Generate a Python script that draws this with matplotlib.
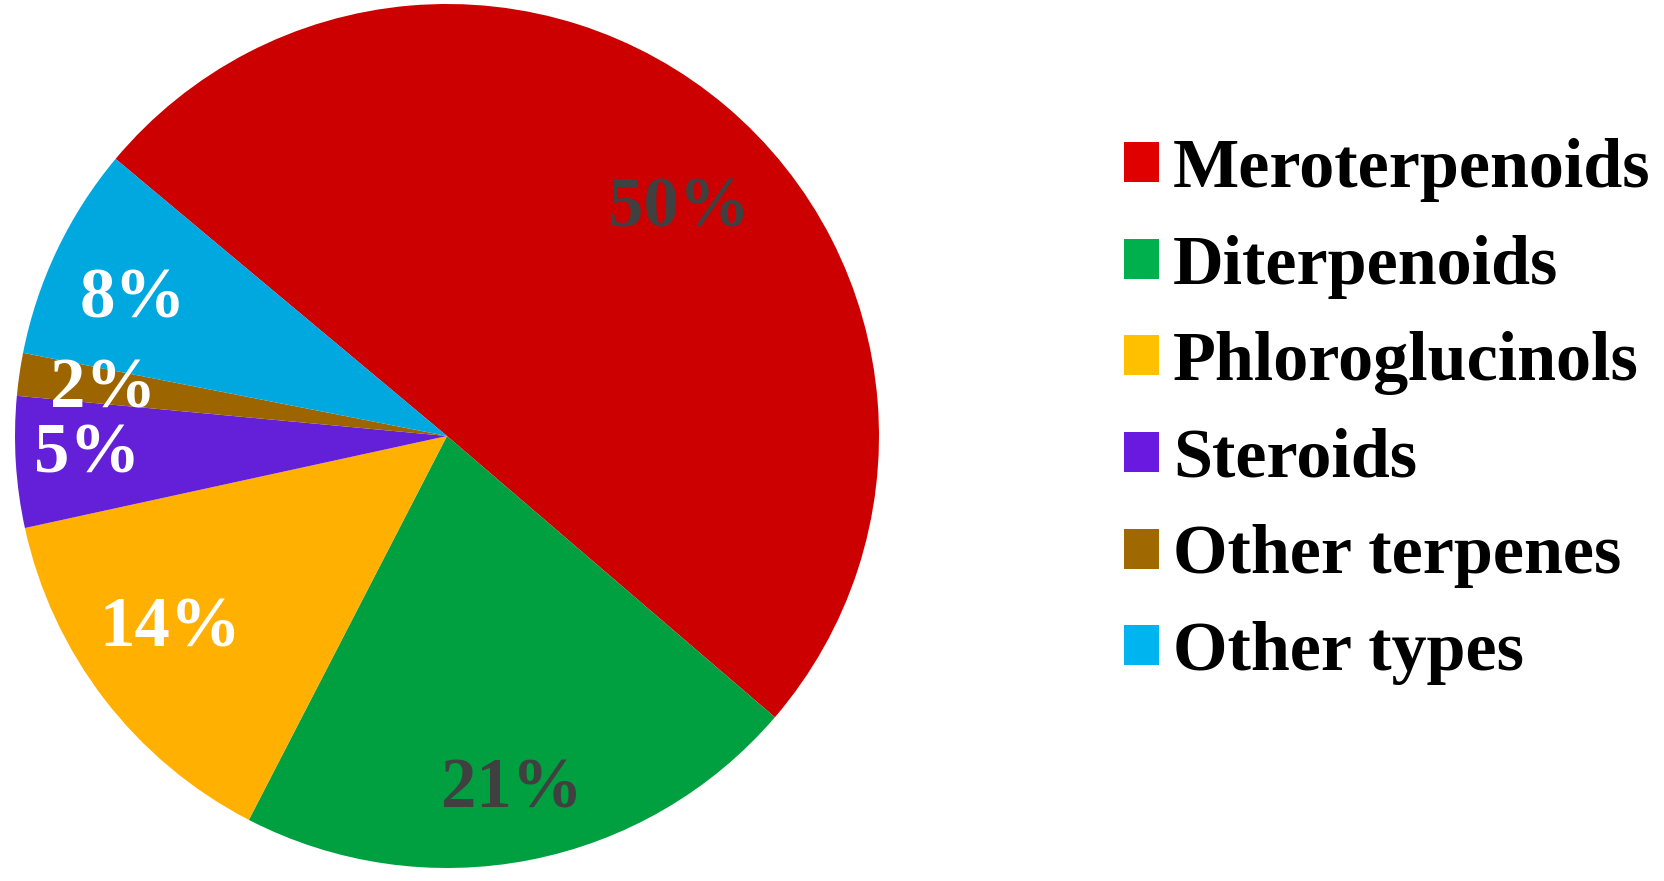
import numpy as np
import matplotlib
matplotlib.use("Agg")
import matplotlib.pyplot as plt
from matplotlib.patches import Patch

categories = ["Meroterpenoids", "Diterpenoids", "Phloroglucinols",
              "Steroids", "Other terpenes", "Other types"]
shares = [50.2, 21.3, 14.0, 4.9, 1.6, 8.0]

pie_colors = ["#CC0000", "#00A040", "#FFB000", "#6420D8", "#9C6500", "#00A8E0"]
legend_colors = ["#E00000", "#00B04C", "#FFC000", "#6A1AE0", "#A06800", "#00B4F0"]
label_colors = ["#404040", "#404040", "white", "white", "white", "white"]

# per-label placement tweaks (radius fraction, angle shift in degrees)
label_r = [0.763, 0.815, 0.77, 0.833, 0.805, 0.80]
label_shift = [-4.5, -0.4, -3.7, -1.6, -0.7, 0.9]

W, H = 1664, 881
cx, cy, R = 447, 436, 432

fig = plt.figure(figsize=(W / 100, H / 100), dpi=100)
ax = fig.add_axes([(cx - R) / W, (H - cy - R) / H, 2 * R / W, 2 * R / H])

wedges, texts, autotexts = ax.pie(
    shares, colors=pie_colors, startangle=140.1, counterclock=False,
    autopct="%.0f%%", radius=1.0,
    wedgeprops=dict(linewidth=0),
    textprops=dict(family="Liberation Serif", weight="bold", fontsize=51),
)
ax.set_xlim(-1, 1)
ax.set_ylim(-1, 1)
ax.set_aspect("equal")
ax.axis("off")

for w, t, r, s, c in zip(wedges, autotexts, label_r, label_shift, label_colors):
    ang = np.deg2rad((w.theta1 + w.theta2) / 2 + s)
    t.set_position((r * np.cos(ang), r * np.sin(ang)))
    t.set_color(c)
    t.set_verticalalignment("center_baseline")

handles = [Patch(facecolor=c, edgecolor="none") for c in legend_colors]
fig.legend(handles, categories, loc="upper left",
           bbox_to_anchor=(1124 / W, 1 - 138 / H),
           frameon=False,
           prop=dict(family="Liberation Serif", weight="bold", size=50.5),
           handlelength=0.5, handleheight=0.5, handletextpad=0.2,
           labelspacing=0.465, borderaxespad=0, borderpad=0)

fig.savefig("out.png", dpi=100)
